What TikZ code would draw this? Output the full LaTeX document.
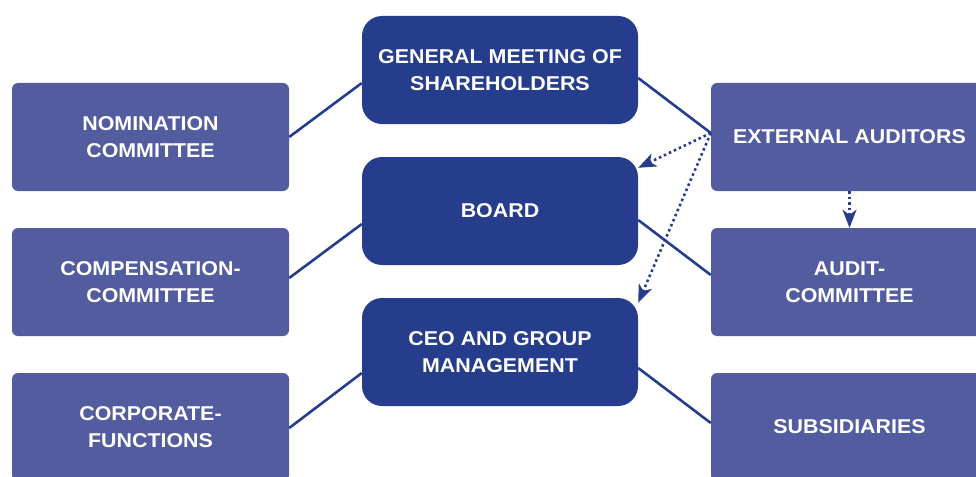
\documentclass[tikz,border=0pt]{standalone}
\usepackage{fontspec}
\setmainfont[FakeStretch=1.07]{Liberation Sans}
\usetikzlibrary{arrows.meta}

\definecolor{darkbox}{RGB}{37,61,140}
\definecolor{lightbox}{RGB}{83,92,159}

\begin{document}
\begin{tikzpicture}[x=1pt,y=-1pt,
  mainbox/.style={fill=darkbox, rounded corners=20pt, minimum width=276pt, minimum height=108pt,
    text=white, align=center, inner sep=0pt, font=\bfseries\fontsize{20}{27}\selectfont},
  sidebox/.style={fill=lightbox, rounded corners=6pt, minimum width=277pt, minimum height=108pt,
    text=white, align=center, inner sep=0pt, font=\bfseries\fontsize{20}{27}\selectfont},
  link/.style={draw=darkbox, line width=2.6pt},
  dotlink/.style={draw=darkbox, line width=2.6pt, dash pattern=on 2.5pt off 3pt,
    -{Stealth[length=18pt,width=14pt,inset=5pt]}}]

\clip (0,0) rectangle (976,476);
\useasboundingbox (0,0) rectangle (976,476);

\node[mainbox] (gms)   at (500,70)  {GENERAL MEETING OF\\SHAREHOLDERS};
\node[mainbox] (board) at (500,211) {BOARD};
\node[mainbox] (ceo)   at (500,352) {CEO AND GROUP\\MANAGEMENT};

\node[sidebox] (nom)  at (150.5,137) {NOMINATION\\COMMITTEE};
\node[sidebox] (comp) at (150.5,282) {COMPENSATION-\\COMMITTEE};
\node[sidebox] (corp) at (150.5,427) {CORPORATE-\\FUNCTIONS};

\node[sidebox] (ext)   at (849.5,137) {EXTERNAL AUDITORS};
\node[sidebox] (audit) at (849.5,282) {AUDIT-\\COMMITTEE};
\node[sidebox] (subs)  at (849.5,427) {SUBSIDIARIES};

% solid links
\draw[link] (nom.east) -- ([yshift=-13pt]gms.west);
\draw[link] ([yshift=4pt]comp.east) -- ([yshift=-13pt]board.west);
\draw[link] ([yshift=-1pt]corp.east) -- ([yshift=-21pt]ceo.west);
\draw[link] ([yshift=-8pt]gms.east) -- ([yshift=4pt]ext.west);
\draw[link] ([yshift=-9pt]board.east) -- ([yshift=7pt]audit.west);
\draw[link] ([yshift=-16pt]ceo.east) -- ([yshift=4pt]subs.west);

% dotted arrows
\coordinate (extout) at ([yshift=4pt]ext.west);
\draw[dotlink] (extout) -- ([yshift=-11pt]board.north east);
\draw[dotlink] (extout) -- ([yshift=-5pt]ceo.north east);
\draw[dotlink] (ext.south) -- (audit.north);

\end{tikzpicture}
\end{document}
